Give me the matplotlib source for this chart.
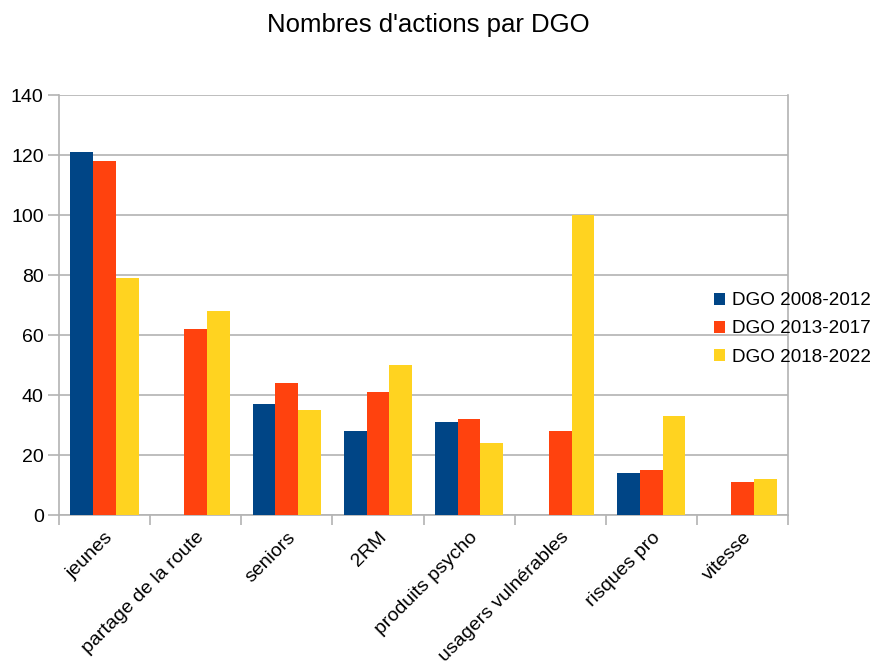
import matplotlib
matplotlib.use("Agg")
import matplotlib.pyplot as plt
import numpy as np

categories = ["jeunes", "partage de la route", "seniors", "2RM", "produits psycho",
              "usagers vulnérables", "risques pro", "vitesse"]
series_names = ["DGO 2008-2012", "DGO 2013-2017", "DGO 2018-2022"]
dgo_2008_2012 = [121, 0, 37, 28, 31, 0, 14, 0]
dgo_2013_2017 = [118, 62, 44, 41, 32, 28, 15, 11]
dgo_2018_2022 = [79, 68, 35, 50, 24, 100, 33, 12]
yticks = [0, 20, 40, 60, 80, 100, 120, 140]

colors = ["#004586", "#ff420e", "#ffd320"]

plt.rcParams['font.family'] = ['Liberation Sans', 'DejaVu Sans']

fig = plt.figure(figsize=(8.8, 6.67), dpi=100)
ax = fig.add_axes([59/880, 1 - 515/667, (788 - 59)/880, (515 - 95)/667])

x = np.arange(len(categories))
w = 0.25
for i, (vals, name) in enumerate(zip([dgo_2008_2012, dgo_2013_2017, dgo_2018_2022], series_names)):
    ax.bar(x + (i - 1) * w, vals, width=w, color=colors[i], label=name, zorder=3)

ax.set_xlim(-0.5, len(categories) - 0.5)
ax.set_ylim(0, 140)
ax.set_yticks(yticks)
ax.yaxis.grid(True, color="#b3b3b3", linewidth=1.2, zorder=0)
ax.set_axisbelow(True)

# x ticks at category boundaries
ax.set_xticks(np.arange(len(categories) + 1) - 0.5)
ax.set_xticklabels([])
ax.set_xticks(x, minor=True)
ax.set_xticklabels(categories, minor=True, rotation=45, ha="right", rotation_mode="anchor",
                   fontsize=14)
ax.tick_params(axis="x", which="minor", length=0, pad=10)
ax.tick_params(axis="x", which="major", length=7, color="#b3b3b3", width=1.2)
ax.tick_params(axis="y", length=8, color="#b3b3b3", width=1.2, labelsize=14, pad=3)

for side in ["left", "bottom", "right"]:
    ax.spines[side].set_color("#b3b3b3")
    ax.spines[side].set_linewidth(1.2)
ax.spines["top"].set_visible(False)

fig.text(428/880, 1 - 25/667, "Nombres d'actions par DGO", ha="center", va="center", fontsize=18.5)

fig.legend(loc="center left", bbox_to_anchor=(714/880, 1 - 329/667), frameon=False,
           fontsize=13.6, handlelength=0.6, handleheight=0.6, handletextpad=0.35,
           labelspacing=0.6, borderaxespad=0, borderpad=0)

fig.savefig("out.png", dpi=100)
